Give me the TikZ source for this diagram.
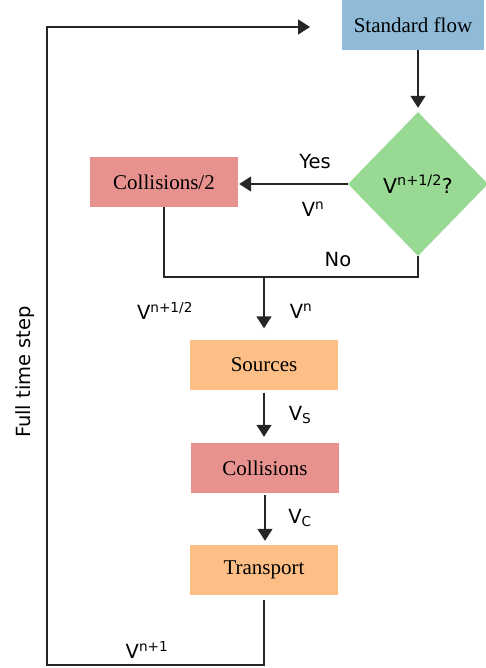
\documentclass[tikz,border=0pt]{standalone}
\usepackage{fontspec}
\setmainfont{Liberation Serif}
\newfontfamily\labelfont{DejaVu Sans}
\usetikzlibrary{shapes.geometric,arrows.meta,positioning,calc}

\definecolor{flowblue}{RGB}{143,187,217}
\definecolor{testgreen}{RGB}{152,217,148}
\definecolor{collpink}{RGB}{232,146,144}
\definecolor{stageorange}{RGB}{253,191,134}

\begin{document}
\begin{tikzpicture}[x=1pt, y=-1pt]
  \tikzstyle{stage}=[rectangle, minimum width=148pt, minimum height=50pt, inner sep=0pt, font=\fontsize{21}{25}\selectfont]
  \tikzstyle{test}=[diamond, minimum width=140pt, minimum height=144pt, inner sep=0pt, font=\labelfont\fontsize{20.5}{24}\selectfont]
  \tikzstyle{lbl}=[inner sep=0pt, font=\labelfont\fontsize{19.5}{23}\selectfont]
  \tikzstyle{wire}=[line width=1.5pt, draw=black!85]
  \tikzstyle{flow}=[wire, -{Triangle[length=12pt, width=15pt]}]

  \useasboundingbox (0,0) rectangle (486,668);

  \node[stage, fill=flowblue, minimum width=142pt] (std) at (413,25) {Standard flow};
  \node[test, fill=testgreen] (chk) at (418,184) {V\textsuperscript{n+1/2}?};
  \node[stage, fill=collpink] (half) at (164,182) {Collisions/2};
  \node[stage, fill=stageorange] (src) at (264,364.5) {Sources};
  \node[stage, fill=collpink] (coll) at (265,468) {Collisions};
  \node[stage, fill=stageorange] (trn) at (264,570) {Transport};

  \coordinate (mrg) at (264,277);
  \coordinate (lowL) at (47,665);
  \coordinate (ret) at (310,27);

  \draw[flow, shorten >=4pt] (chk.north |- std.south) -- (chk.north);
  \draw[flow, shorten >=1pt] (chk.west) -- (chk.west -| half.east);
  \draw[wire] (half.south) |- (mrg) -| (chk.south);
  \draw[flow, shorten >=11pt] (mrg) -- (src.north);
  \draw[flow, shorten <=3pt, shorten >=6pt] (src.south) -- (src.south |- coll.north);
  \draw[flow, shorten <=2pt, shorten >=4pt] (coll.south) -- (coll.south |- trn.north);
  \draw[flow, shorten <=5pt] (trn.south) |- (lowL) |- (ret);

  \node[lbl] (yes) at (315,162) {Yes};
  \node[lbl] (vna) at (313,209) {V\textsuperscript{n}};
  \node[lbl] (no) at (338,260) {No};
  \node[lbl] (vhalf) at (165,311) {V\textsuperscript{n+1/2}};
  \node[lbl] (vnb) at (301,311) {V\textsuperscript{n}};
  \node[lbl] (vs) at (300,415) {V\textsubscript{S}};
  \node[lbl] (vc) at (300,518) {V\textsubscript{C}};
  \node[lbl] (vnext) at (147,650) {V\textsuperscript{n+1}};
  \node[lbl, rotate=90] (full) at (25,372) {Full time step};
\end{tikzpicture}
\end{document}
